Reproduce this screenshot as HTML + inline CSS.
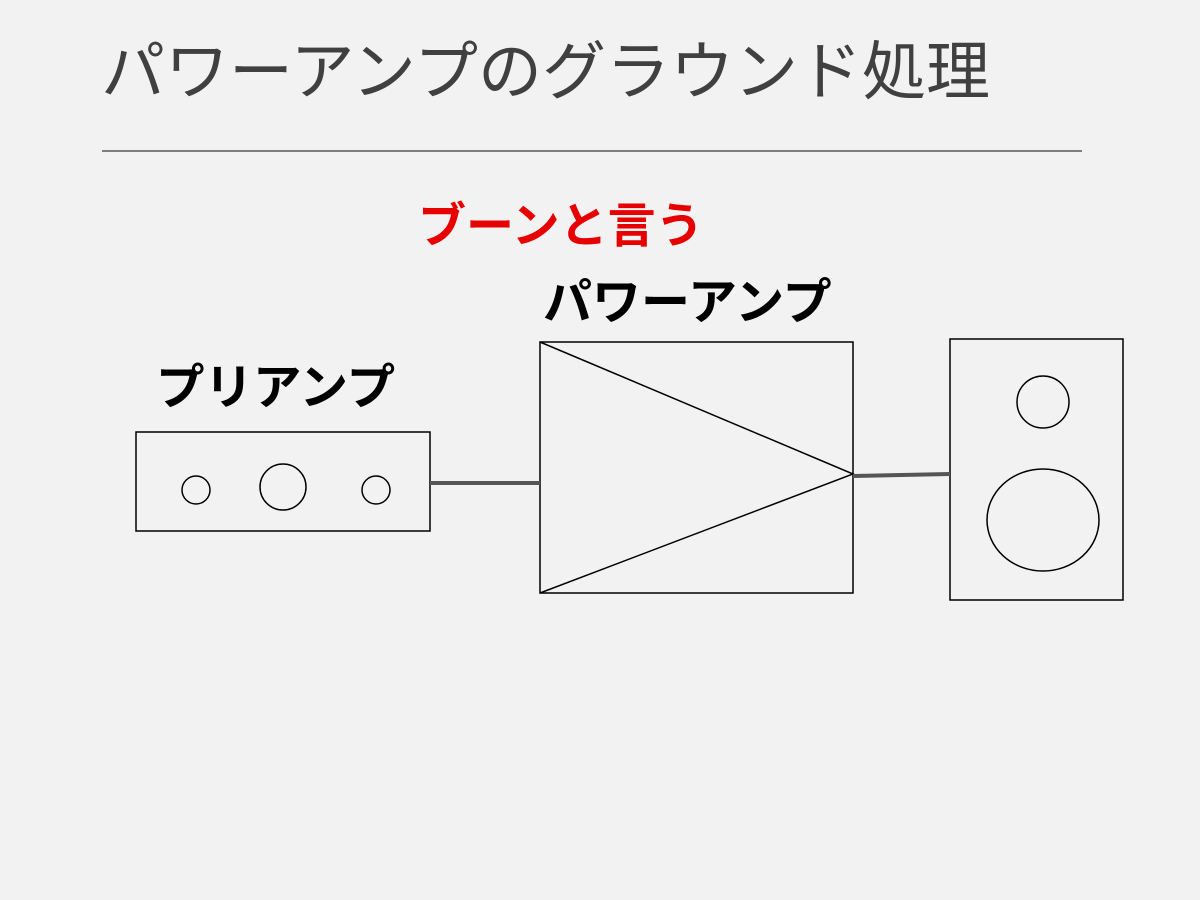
<!DOCTYPE html>
<html><head><meta charset="utf-8"><style>
body{margin:0;width:1200px;height:900px;background:#f2f2f2;overflow:hidden;position:relative;font-family:"Liberation Sans","Noto Sans CJK JP",sans-serif}
.t{position:absolute;white-space:nowrap;line-height:1}
</style></head><body>
<div class="t" style="left:101px;top:40px;font-size:64px;color:#404040;font-weight:400">パワーアンプのグラウンド処理</div>
<div class="t" style="left:418px;top:203px;font-size:48px;color:#e60000;font-weight:bold">ブーンと言う</div>
<div class="t" style="left:543px;top:279px;font-size:49px;color:#000;font-weight:bold">パワーアンプ</div>
<div class="t" style="left:156px;top:364px;font-size:48.5px;color:#000;font-weight:bold">プリアンプ</div>
<svg width="1200" height="900" style="position:absolute;left:0;top:0">
<line x1="102" y1="151" x2="1082" y2="151" stroke="#595959" stroke-width="1.5"/>
<g fill="none" stroke="#000" stroke-width="1.5">
<rect x="136" y="432" width="294" height="99"/>
<circle cx="196" cy="490" r="14"/>
<circle cx="283" cy="487" r="23"/>
<circle cx="376" cy="490" r="14"/>
<rect x="540" y="342" width="313" height="251"/>
<polyline points="540,342 853,474 540,593"/>
<rect x="950" y="339" width="173" height="261"/>
<circle cx="1043" cy="402" r="26"/>
<ellipse cx="1043" cy="520" rx="56" ry="51"/>
</g>
<line x1="430" y1="483" x2="540" y2="483" stroke="#555" stroke-width="4"/>
<line x1="853" y1="476" x2="950" y2="474" stroke="#555" stroke-width="4"/>
</svg>
</body></html>
